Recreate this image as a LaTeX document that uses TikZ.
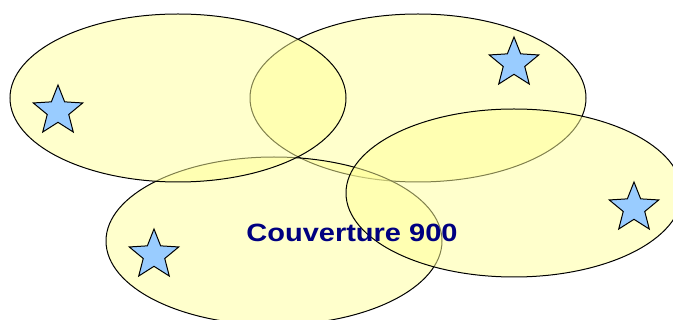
\documentclass[tikz,border=0pt]{standalone}
\usepackage{fontspec}
\newfontfamily\legende[FakeStretch=1.16]{Liberation Sans}
\usetikzlibrary{shapes.geometric}
\definecolor{zonefill}{RGB}{255,255,153}
\definecolor{etoilefill}{RGB}{153,204,255}
\definecolor{marine}{RGB}{0,0,128}
\tikzset{
  zone/.style={draw, ellipse, line width=1pt, fill=zonefill, fill opacity=0.5,
    inner sep=0pt, minimum width=336pt, minimum height=168pt},
  etoile/.style={draw, star, star points=5, star point ratio=2.3, line width=1pt,
    fill=etoilefill, inner sep=0pt, minimum size=52pt}
}
\begin{document}
\begin{tikzpicture}[x=1pt, y=-1pt]
\useasboundingbox (0,0) rectangle (673,320);
\node[zone] (z2) at (418, 98) {};
\node[zone] (z4) at (274, 241) {};
\node[zone] (z1) at (178, 98) {};
\node[zone] (z3) at (514, 193) {};
\node[etoile] (s1) at (58, 111) {};
\node[etoile] (s2) at (514, 63) {};
\node[etoile] (s3) at (634, 208) {};
\node[etoile] (s4) at (154, 255) {};
\node[text=marine, font=\legende\bfseries\fontsize{25}{30}\selectfont] (titre) at (352, 233) {Couverture 900};
\end{tikzpicture}
\end{document}
